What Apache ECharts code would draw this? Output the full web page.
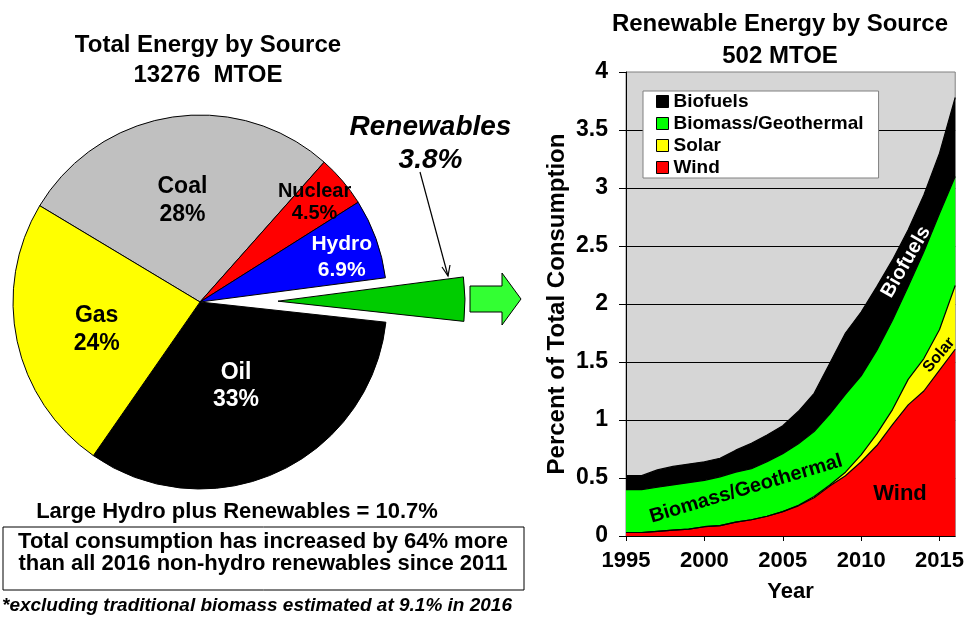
<!DOCTYPE html>
<html><head><meta charset="utf-8">
<script src="https://cdn.jsdelivr.net/npm/echarts@6/dist/echarts.min.js"></script>
<style>html,body{margin:0;padding:0;background:#fff}#c{width:967px;height:617px}</style>
</head><body><div id="c"></div>
<script>
// ---- data ----
const pieNames = ['Coal', 'Nuclear', 'Hydro', 'Renewables', 'Oil', 'Gas'];
const pieValues = [28, 4.5, 6.9, 3.8, 33, 24];

const years = ['1995','1996','1997','1998','1999','2000','2001','2002','2003','2004','2005',
               '2006','2007','2008','2009','2010','2011','2012','2013','2014','2015','2016'];
const xTickLabels = ['1995', '2000', '2005', '2010', '2015'];
const wind     = [0.03,0.03,0.04,0.05,0.06,0.08,0.09,0.12,0.14,0.17,0.21,0.26,0.33,0.43,0.52,0.64,0.78,0.96,1.13,1.25,1.43,1.61];
const solar    = [0,0,0,0,0,0,0,0,0,0,0,0.005,0.01,0.01,0.03,0.06,0.10,0.13,0.22,0.28,0.35,0.55];
const biomass  = [0.37,0.37,0.38,0.39,0.40,0.40,0.42,0.43,0.44,0.47,0.50,0.53,0.56,0.61,0.67,0.68,0.72,0.77,0.80,0.92,1.00,0.94];
const biofuels = [0.12,0.12,0.15,0.16,0.16,0.16,0.16,0.19,0.22,0.23,0.24,0.28,0.33,0.44,0.53,0.55,0.55,0.52,0.49,0.49,0.52,0.68];
const legendOrder = ['Biofuels', 'Biomass/Geothermal', 'Solar', 'Wind'];

// ---- styles ----
const FONT = '"Liberation Sans", Arial, sans-serif';
const pieColors = {Coal:'#c0c0c0', Nuclear:'#ff0000', Hydro:'#0000ff', Renewables:'#00cc00', Oil:'#000000', Gas:'#ffff00'};
const pieLabelStyle = {
  Coal:       {fontSize:23, color:'#000', lineHeight:28},
  Nuclear:    {fontSize:20, color:'#000', lineHeight:22},
  Hydro:      {fontSize:21, color:'#fff', lineHeight:26},
  Renewables: {fontSize:28, color:'#000', lineHeight:33, fontStyle:'italic'},
  Oil:        {fontSize:23, color:'#fff', lineHeight:27},
  Gas:        {fontSize:23, color:'#000', lineHeight:28}
};
const pieLabelShift = {Coal:[-3,-6], Nuclear:[41,-37], Hydro:[51,-12], Renewables:[56,-156], Oil:[-4,-4], Gas:[-9,7]};
const areaColors = {'Wind':'#ff0000', 'Solar':'#ffff00', 'Biomass/Geothermal':'#00ff00', 'Biofuels':'#000000'};

function txt(text, x, y, size, opts) {
  opts = opts || {};
  return {
    type: 'text', x: x, y: y, rotation: (opts.rot || 0) * Math.PI / 180, z: 100,
    style: {
      text: text, fill: opts.color || '#000',
      fontSize: size, fontWeight: 'bold', fontStyle: opts.italic ? 'italic' : 'normal', fontFamily: FONT,
      align: opts.align || 'center', textAlign: opts.align || 'center',
      verticalAlign: 'middle', textVerticalAlign: 'middle'
    }
  };
}

const chart = echarts.init(document.getElementById('c'), null, {renderer: 'canvas'});

const pieData = pieNames.map((n, i) => ({
  name: n, value: pieValues[i], selected: n === 'Renewables',
  itemStyle: {color: pieColors[n], borderColor: '#000', borderWidth: 1},
  label: Object.assign({fontWeight: 'bold', fontFamily: FONT}, pieLabelStyle[n])
}));

const seriesDefs = [
  {name: 'Wind', data: wind},
  {name: 'Solar', data: solar},
  {name: 'Biomass/Geothermal', data: biomass},
  {name: 'Biofuels', data: biofuels}
];

const option = {
  animation: false,
  backgroundColor: '#ffffff',
  textStyle: {fontFamily: FONT},
  grid: {left: 626, right: 10, top: 72, bottom: 81, show: true, backgroundColor: '#d6d6d6', borderColor: '#808080', borderWidth: 1},
  legend: {
    orient: 'vertical', left: 643, top: 91,
    data: legendOrder.map(n => ({name: n, itemStyle: {color: areaColors[n], borderColor: '#000', borderWidth: 1}})),
    icon: 'rect', itemWidth: 12, itemHeight: 12, itemGap: 3,
    backgroundColor: '#ffffff', borderColor: '#808080', borderWidth: 1,
    padding: [1, 15, 1, 13],
    textStyle: {fontSize: 19, fontWeight: 'bold', color: '#000', fontFamily: FONT, lineHeight: 19},
    selectedMode: false
  },
  xAxis: {
    type: 'category', data: years, boundaryGap: false,
    name: 'Year', nameLocation: 'middle', nameGap: 45,
    nameTextStyle: {fontSize: 22, fontWeight: 'bold', color: '#000', fontFamily: FONT},
    axisLine: {lineStyle: {color: '#000', width: 1}},
    axisTick: {interval: (i, v) => xTickLabels.includes(v), length: 5, lineStyle: {color: '#000'}},
    axisLabel: {interval: (i, v) => xTickLabels.includes(v), fontSize: 22, fontWeight: 'bold', color: '#000', margin: 14, fontFamily: FONT},
    splitLine: {show: false}
  },
  yAxis: {
    type: 'value', min: 0, max: 4, interval: 0.5,
    name: 'Percent of Total Consumption', nameLocation: 'middle', nameRotate: 90, nameGap: 57,
    nameTextStyle: {fontSize: 24, fontWeight: 'bold', color: '#000', fontFamily: FONT},
    axisLine: {show: true, lineStyle: {color: '#000', width: 1}},
    axisTick: {show: true, length: 7, lineStyle: {color: '#000'}},
    axisLabel: {fontSize: 23, fontWeight: 'bold', color: '#000', margin: 18, fontFamily: FONT},
    splitLine: {show: true, showMaxLine: false, lineStyle: {color: '#000', width: 1}}
  },
  series: [
    {
      type: 'pie', center: [200, 302], radius: 187, startAngle: 149, clockwise: true,
      selectedMode: 'single', selectedOffset: 78, avoidLabelOverlap: false,
      emphasis: {disabled: true}, silent: true,
      label: {show: true, position: 'inside', formatter: '{b}\n{c}%', rotate: 0},
      labelLine: {show: false},
      labelLayout: function (p) {
        const s = pieLabelShift[pieNames[p.dataIndex]];
        return {dx: s[0], dy: s[1]};
      },
      data: pieData
    }
  ].concat(seriesDefs.map(s => ({
    type: 'line', name: s.name, data: s.data, stack: 'total',
    symbol: 'none', showSymbol: false, silent: true,
    color: areaColors[s.name],
    lineStyle: {color: '#000', width: 1.2},
    areaStyle: {color: areaColors[s.name], opacity: 1},
    emphasis: {disabled: true}
  }))),
  graphic: [
    txt('Total Energy by Source', 208, 45, 24),
    txt('13276  MTOE', 208, 75, 24),
    txt('Renewable Energy by Source', 780, 24, 24),
    txt('502 MTOE', 780, 56, 24),
    txt('Large Hydro plus Renewables = 10.7%', 237, 512, 22),
    {type: 'rect', shape: {x: 3, y: 527, width: 521, height: 63}, style: {fill: 'none', stroke: '#000', lineWidth: 1}, z: 100},
    txt('Total consumption has increased by 64% more', 263, 542, 22),
    txt('than all 2016 non-hydro renewables since 2011', 263, 564, 22),
    txt('*excluding traditional biomass estimated at 9.1% in 2016', 2, 606, 19, {italic: true, align: 'left'}),
    // arrow from Renewables label to wedge
    {type: 'line', shape: {x1: 420, y1: 172, x2: 448, y2: 276}, style: {stroke: '#000', lineWidth: 1.2}, z: 100},
    {type: 'polyline', shape: {points: [[442, 267], [448, 276], [450, 265]]}, style: {stroke: '#000', lineWidth: 1.2, fill: 'none'}, z: 100},
    // block arrow
    {type: 'polygon', shape: {points: [[470, 286], [502, 286], [502, 273], [521, 299], [502, 325], [502, 312], [470, 312]]},
     style: {fill: '#33ff33', stroke: '#000', lineWidth: 1}, z: 100},
    // area labels
    txt('Biomass/Geothermal', 746, 489, 20, {rot: 16.5}),
    txt('Wind', 900, 494, 22),
    txt('Biofuels', 906, 262, 20, {rot: 60, color: '#fff'}),
    txt('Solar', 939, 355, 16, {rot: 50})
  ]
};
chart.setOption(option);
</script>
</body></html>
